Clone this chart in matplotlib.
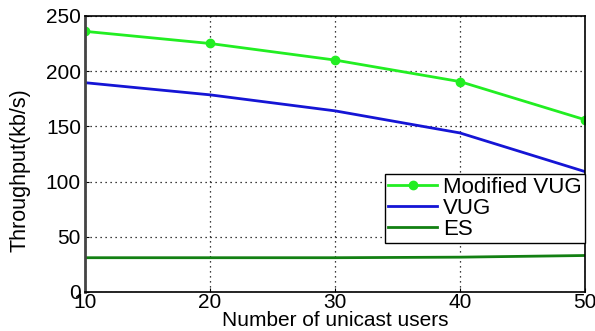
import matplotlib
matplotlib.use("Agg")
import matplotlib.pyplot as plt

plt.rcParams['font.family'] = ['Liberation Sans', 'DejaVu Sans']

usuarios = [10, 20, 30, 40, 50]
vug_mod = [236, 225, 210, 190.5, 156]
vug = [189.5, 178.5, 164, 144, 109]
es = [31, 31, 31, 31.5, 33]

fig = plt.figure(figsize=(5.95, 3.31), dpi=100)
ax = fig.add_axes([0.143, 0.118, 0.84, 0.834])

ax.plot(usuarios, vug_mod, color='#22ee22', lw=2, marker='o', ms=6, label='Modified VUG')
ax.plot(usuarios, vug, color='#1515d5', lw=2, label='VUG')
ax.plot(usuarios, es, color='#128012', lw=2, label='ES')

ax.set_xlim(10, 50)
ax.set_ylim(0, 250)
ax.set_xticks(usuarios)
ax.set_yticks(range(0, 251, 50))
ax.grid(True, color='black', linestyle=(0, (1, 3)), lw=0.9)
ax.tick_params(labelsize=15, direction='in', length=3)
ax.tick_params(axis='y', pad=3)
ax.tick_params(axis='x', pad=1)
for s in ax.spines.values():
    s.set_linewidth(1.2)
ax.spines['left'].set_color('#444444')
ax.spines['left'].set_linewidth(2)

ax.set_xlabel("Number of unicast users", fontsize=15, labelpad=-1)
ax.set_ylabel("Throughput(kb/s)", fontsize=15.5)
ax.yaxis.set_label_coords(-0.11, 0.44)

leg = ax.legend(loc='upper right', bbox_to_anchor=(1.0, 0.428), fontsize=16,
                fancybox=False, framealpha=1, edgecolor='black',
                borderpad=0.15, labelspacing=0.0, handlelength=2.2, handletextpad=0.25,
                borderaxespad=0)
leg.get_frame().set_linewidth(1)

fig.savefig("out.png", dpi=100)
